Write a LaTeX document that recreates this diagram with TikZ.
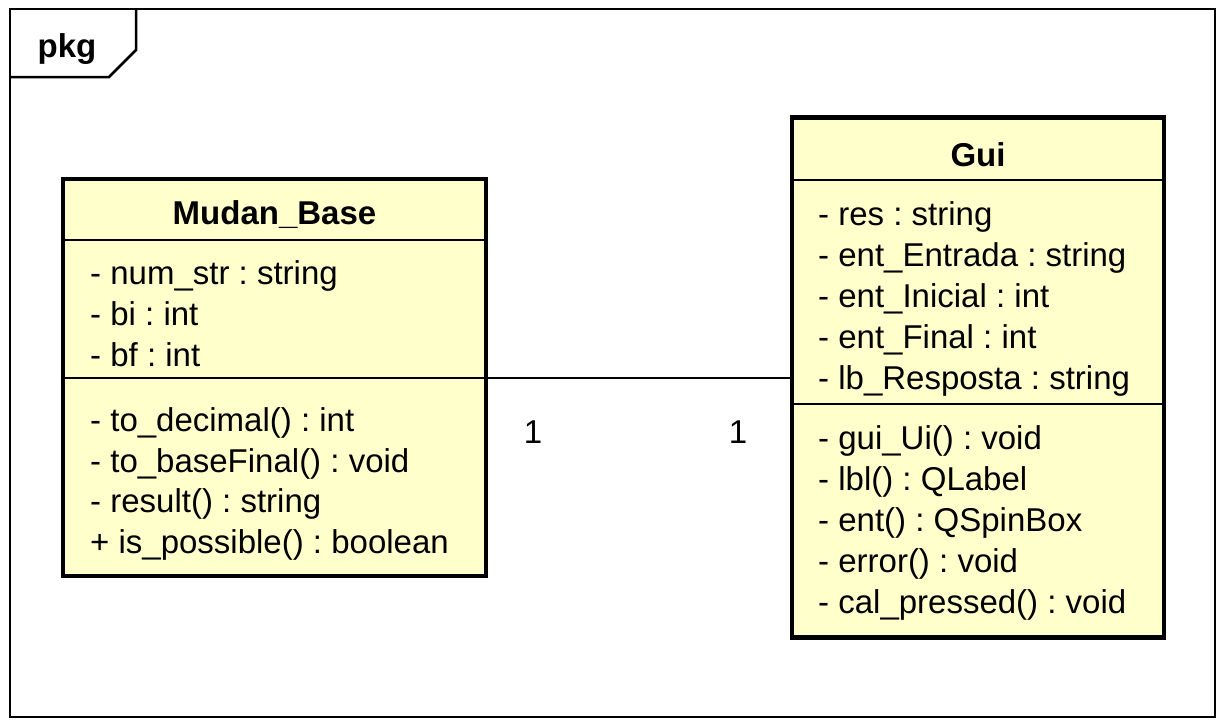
\documentclass[tikz,border=0pt]{standalone}
\usepackage{fontspec}
\setmainfont{Liberation Sans}
\usetikzlibrary{positioning}
\definecolor{umlfill}{HTML}{FFFFCC}
\frenchspacing

\begin{document}
\begin{tikzpicture}[x=1pt,y=-1pt,
                    class box/.style={draw,line width=4.5pt,fill=umlfill,inner sep=0pt},
                    member/.style={anchor=base west,inner sep=0pt,font=\fontsize{33}{38}\selectfont},
                    title/.style={anchor=base,inner sep=0pt,font=\fontsize{33}{38}\selectfont\bfseries},
                    mult/.style={inner sep=0pt,font=\fontsize{33}{38}\selectfont}]
\useasboundingbox (0,0) rectangle (1224,726);
% package frame
\draw[line width=2.5pt] (10,9) rectangle (1215,717);
\draw[line width=2.5pt] (10,77) -- (109,77) -- (136,50) -- (136,9);
\node[title] (pkg) at (67,57) {pkg};

% class boxes
\node[class box,minimum width=423pt,minimum height=397pt] (mb) at (274.5,377.5) {};
\node[class box,minimum width=372pt,minimum height=520pt] (gui) at (978,377.5) {};

% compartments
\draw[line width=2pt] (mb.west |- 0,240) -- (mb.east |- 0,240);
\draw[line width=2pt] (mb.west |- 0,378) -- (mb.east |- 0,378);
\draw[line width=2pt] (gui.west |- 0,180) -- (gui.east |- 0,180);
\draw[line width=2pt] (gui.west |- 0,404) -- (gui.east |- 0,404);

% Mudan_Base
\node[title] (mbname) at (274.5,224) {Mudan\_Base};
\node[member] (mba1) at (90,284) {- num\_str : string};
\node[member] (mba2) at (90,325) {- bi : int};
\node[member] (mba3) at (90,366) {- bf : int};
\node[member] (mbm1) at (90,431) {- to\_decimal() : int};
\node[member] (mbm2) at (90,472) {- to\_baseFinal() : void};
\node[member] (mbm3) at (90,512) {- result() : string};
\node[member] (mbm4) at (90,553) {+ is\_possible() : boolean};

% Gui
\node[title] (guiname) at (978,166) {Gui};
\node[member] (guia1) at (818,225) {- res : string};
\node[member] (guia2) at (818,266) {- ent\_Entrada : string};
\node[member] (guia3) at (818,307) {- ent\_Inicial : int};
\node[member] (guia4) at (818,348) {- ent\_Final : int};
\node[member] (guia5) at (818,389) {- lb\_Resposta : string};
\node[member] (guim1) at (818,449) {- gui\_Ui() : void};
\node[member] (guim2) at (818,490) {- lbl() : QLabel};
\node[member] (guim3) at (818,531) {- ent() : QSpinBox};
\node[member] (guim4) at (818,572) {- error() : void};
\node[member] (guim5) at (818,613) {- cal\_pressed() : void};

% association
\draw[line width=2pt] (mb.east) -- (gui.west);
\node[mult] (m1) at (533,432) {1};
\node[mult] (m2) at (738,432) {1};

\end{tikzpicture}
\end{document}
